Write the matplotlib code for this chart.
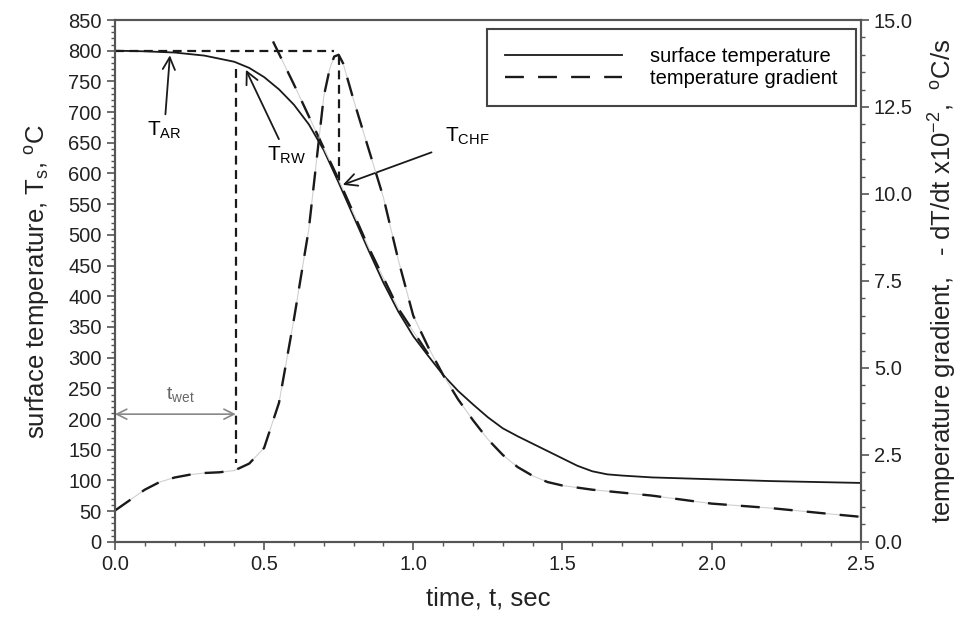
import matplotlib.pyplot as plt
import numpy as np
from matplotlib.ticker import MultipleLocator

plt.rcParams['font.family'] = ['Liberation Sans', 'DejaVu Sans']
plt.rcParams['mathtext.fontset'] = 'custom'
plt.rcParams['mathtext.rm'] = 'Liberation Sans'
plt.rcParams['mathtext.it'] = 'Liberation Sans'

# surface temperature (left axis, degC)
t_surf = [0.0, 0.1, 0.2, 0.3, 0.4, 0.45, 0.5, 0.55, 0.6, 0.65, 0.7, 0.75, 0.8,
          0.85, 0.9, 0.95, 1.0, 1.05, 1.1, 1.15, 1.2, 1.25, 1.3, 1.35, 1.4,
          1.45, 1.5, 1.55, 1.6, 1.65, 1.7, 1.8, 2.0, 2.2, 2.5]
T_surf = [800, 799, 797, 792, 782, 772, 757, 737, 712, 680, 638, 585, 530,
          475, 422, 375, 335, 303, 272, 246, 224, 203, 185, 172, 160,
          148, 136, 124, 115, 110, 108, 105, 102, 99, 96]

# temperature gradient (right axis, -dT/dt x10^-2 degC/s)
t_grad = [0.0, 0.05, 0.1, 0.15, 0.2, 0.25, 0.3, 0.35, 0.4, 0.45, 0.5, 0.55,
          0.6, 0.65, 0.7, 0.72, 0.735, 0.75, 0.765, 0.78, 0.8, 0.85, 0.9,
          0.95, 1.0, 1.05, 1.1, 1.15, 1.2, 1.25, 1.3, 1.35, 1.4, 1.45, 1.5,
          1.6, 1.8, 2.0, 2.2, 2.4, 2.5]
g_grad = [0.9, 1.2, 1.5, 1.72, 1.85, 1.93, 1.98, 2.0, 2.05, 2.25, 2.7, 4.0,
          6.4, 9.0, 12.8, 13.6, 13.95, 14.0, 13.75, 13.3, 12.7, 11.3, 9.9,
          8.1, 6.5, 5.6, 4.8, 4.1, 3.5, 2.95, 2.5, 2.15, 1.9, 1.72, 1.62,
          1.5, 1.33, 1.1, 0.97, 0.8, 0.72]

# dashed guide drawn along the cooling curve
t_diag = [0.53, 0.6, 0.68, 0.75, 0.85, 0.95, 1.05]
T_diag = [815, 745, 662, 590, 480, 380, 306]

# characteristic points
t_ar, T_ar = 0.185, 797
t_rw, T_rw = 0.435, 773
t_chf, T_chf = 0.755, 580
t_wet = 0.405
t_peak = 0.75

line_col = '#1a1a1a'
spine_col = '#555555'

fig, ax = plt.subplots(figsize=(9.66, 6.25), dpi=100)
fig.subplots_adjust(left=0.119, right=0.891, bottom=0.133, top=0.968)
ax2 = ax.twinx()

l1, = ax.plot(t_surf, T_surf, color=line_col, lw=1.3, label='surface temperature')
ax2.plot(t_grad, g_grad, color='#d0d0d0', lw=0.8)
l2, = ax2.plot(t_grad, g_grad, color=line_col, lw=1.7, dashes=(8, 6),
               label='temperature gradient')
ax.plot(t_diag, T_diag, color='#d0d0d0', lw=0.8)
ax.plot(t_diag, T_diag, color=line_col, lw=1.7, dashes=(8, 6))

# construction lines
ax.plot([0, t_peak - 0.015], [800, 800], color=line_col, lw=1.6, dashes=(4, 2.5))
ax.plot([t_wet, t_wet], [T_rw - 3, 128], color=line_col, lw=1.6, dashes=(4, 2.5))
ax.plot([t_peak, t_peak], [792, T_chf], color=line_col, lw=1.6, dashes=(4, 2.5))

# annotations
arw = dict(arrowstyle='->', color=line_col, lw=1.3, mutation_scale=22)
ax.annotate(r'T$_{\mathrm{AR}}$', xy=(t_ar, T_ar), xytext=(0.165, 670),
            fontsize=15, ha='center', va='center', arrowprops=arw)
ax.annotate(r'T$_{\mathrm{RW}}$', xy=(t_rw, T_rw), xytext=(0.575, 630),
            fontsize=15, ha='center', va='center', arrowprops=arw)
ax.annotate('', xy=(t_chf, T_chf), xytext=(1.07, 636), arrowprops=arw)
ax.text(1.18, 660, r'T$_{\mathrm{CHF}}$', fontsize=15, ha='center', va='center')

ax.annotate('', xy=(0, 208), xytext=(t_wet, 208),
            arrowprops=dict(arrowstyle='<->', color='#888888', lw=1.2,
                            mutation_scale=18, shrinkA=0, shrinkB=0))
ax.text(0.22, 240, r't$_{\mathrm{wet}}$', fontsize=14, color='#666666',
        ha='center', va='center')

# axes
ax.set_xlim(0, 2.5)
ax.set_ylim(0, 850)
ax2.set_ylim(0, 15)
ax.xaxis.set_major_locator(MultipleLocator(0.5))
ax.xaxis.set_minor_locator(MultipleLocator(0.1))
ax.yaxis.set_major_locator(MultipleLocator(50))
ax.yaxis.set_minor_locator(MultipleLocator(10))
ax2.yaxis.set_major_locator(MultipleLocator(2.5))
ax2.yaxis.set_minor_locator(MultipleLocator(0.5))
ax.xaxis.set_major_formatter(plt.FormatStrFormatter('%.1f'))
ax2.yaxis.set_major_formatter(plt.FormatStrFormatter('%.1f'))

for a in (ax, ax2):
    for s in a.spines.values():
        s.set_color(spine_col)
        s.set_linewidth(1.5)
    a.tick_params(which='major', direction='out', length=6, width=1.2,
                  color=spine_col, labelsize=14.5, labelcolor='#222222')
    a.tick_params(which='minor', direction='out', length=3, width=1.0,
                  color=spine_col)

ax.set_xlabel('time, t, sec', fontsize=18.5, color='#222222', labelpad=9)
ax.set_ylabel(r'surface temperature, T$_{\mathrm{s}}$, $^{\mathrm{o}}$C',
              fontsize=18.5, color='#222222', labelpad=12)
ax2.set_ylabel(r'temperature gradient,   - dT/dt x10$^{-2}$,  $^{\mathrm{o}}$C/s',
               fontsize=18.5, color='#222222', labelpad=10)

leg = ax.legend(handles=[l1, l2], loc='upper right',
                bbox_to_anchor=(856 / 966, 1 - 29 / 625),
                bbox_transform=fig.transFigure, borderaxespad=0,
                fontsize=14.5, frameon=True, fancybox=False, framealpha=1,
                edgecolor='#444444', handlelength=5.8, handletextpad=1.4,
                labelspacing=0.15, borderpad=0.9)
leg.get_frame().set_linewidth(1.5)

fig.savefig('out.png', dpi=100)
